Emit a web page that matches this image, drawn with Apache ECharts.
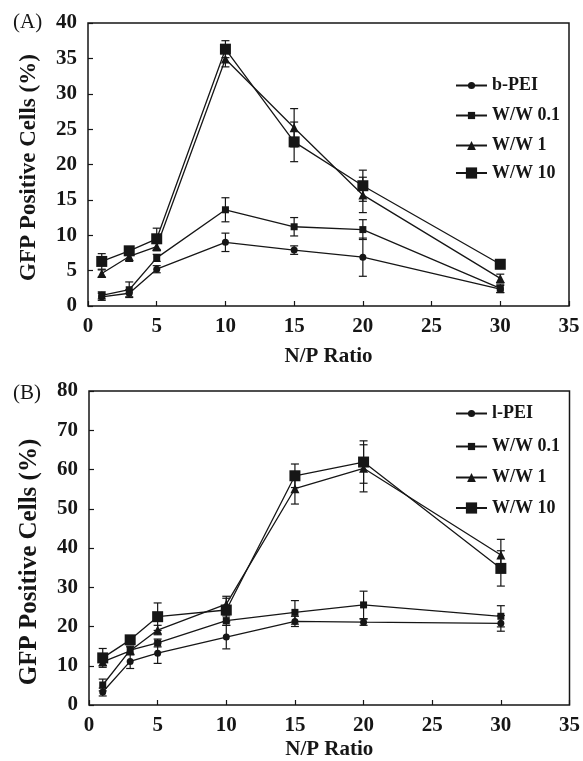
<!DOCTYPE html>
<html><head><meta charset="utf-8">
<script src="https://cdn.jsdelivr.net/npm/echarts@6/dist/echarts.min.js"></script>
<style>html,body{margin:0;padding:0;background:#fff}#c{width:583px;height:761px}</style>
</head><body><div id="c"></div>
<script>
// N/P ratios
const npRatio = [1, 3, 5, 10, 15, 20, 30];
const xTicks = [0, 5, 10, 15, 20, 25, 30, 35];
// Panel A (b-PEI)
const namesA = ['b-PEI', 'W/W 0.1', 'W/W 1', 'W/W 10'];
const A_bPEI = [1.3, 1.8, 5.2, 9.0, 7.9, 6.9, 2.4];
const A_bPEI_err = [0.5, 0.5, 0.5, 1.3, 0.6, 2.7, 0.5];
const A_w01 = [1.5, 2.3, 6.8, 13.6, 11.2, 10.8, 2.5];
const A_w01_err = [0.5, 1.1, 0.5, 1.7, 1.3, 1.4, 0.6];
const A_w1 = [4.6, 7.0, 8.4, 34.9, 25.2, 15.7, 3.9];
const A_w1_err = [0.5, 0.7, 0.6, 1.1, 2.7, 2.5, 0.6];
const A_w10 = [6.3, 7.8, 9.5, 36.3, 23.2, 17.0, 5.9];
const A_w10_err = [1.1, 0.5, 1.5, 1.2, 2.8, 2.2, 0.6];
// Panel B (l-PEI)
const namesB = ['l-PEI', 'W/W 0.1', 'W/W 1', 'W/W 10'];
const B_lPEI = [3.3, 11.1, 13.2, 17.3, 21.3, 21.1, 20.8];
const B_lPEI_err = [1.0, 1.8, 2.6, 3.0, 1.3, 0.8, 2.0];
const B_w01 = [5.1, 14.0, 15.8, 21.5, 23.6, 25.5, 22.6];
const B_w01_err = [1.5, 1.0, 1.0, 1.2, 3.0, 3.5, 2.7];
const B_w1 = [11.0, 13.8, 19.1, 25.7, 55.1, 60.3, 38.2];
const B_w1_err = [1.0, 1.0, 1.2, 2.0, 3.9, 6.0, 4.0];
const B_w10 = [12.0, 16.6, 22.5, 24.2, 58.4, 61.9, 34.8];
const B_w10_err = [2.4, 1.0, 3.5, 3.0, 3.0, 5.4, 4.5];

const FONT = 'Liberation Serif';
const INK = '#161616';
const symbols = [['circle', 7], ['rect', 7], ['triangle', 9], ['rect', 11]];

function pairs(vals) { return npRatio.map((x, i) => [x, vals[i]]); }
function triples(vals, errs) { return npRatio.map((x, i) => [x, vals[i], errs[i]]); }

function errRender(params, api) {
  const x = api.value(0), y = api.value(1), e = api.value(2);
  const t = api.coord([x, y + e]), b = api.coord([x, y - e]);
  const w = 4, st = { stroke: INK, lineWidth: 1.2 };
  return { type: 'group', children: [
    { type: 'line', shape: { x1: t[0], y1: t[1], x2: b[0], y2: b[1] }, style: st },
    { type: 'line', shape: { x1: t[0] - w, y1: t[1], x2: t[0] + w, y2: t[1] }, style: st },
    { type: 'line', shape: { x1: b[0] - w, y1: b[1], x2: b[0] + w, y2: b[1] }, style: st }
  ]};
}

function makeSeries(names, vals, errs, axisIdx, tag) {
  const out = [];
  names.forEach((n, k) => {
    out.push({
      type: 'custom', name: tag + n + '_err', xAxisIndex: axisIdx, yAxisIndex: axisIdx,
      renderItem: errRender, data: triples(vals[k], errs[k]), z: 1, silent: true,
      encode: { x: 0, y: [1] }
    });
    out.push({
      type: 'line', name: tag + n, xAxisIndex: axisIdx, yAxisIndex: axisIdx,
      data: pairs(vals[k]), symbol: symbols[k][0], symbolSize: symbols[k][1],
      lineStyle: { color: INK, width: 1.3 }, itemStyle: { color: INK, borderWidth: 0 },
      z: 3, animation: false
    });
  });
  return out;
}

const chart = echarts.init(document.getElementById('c'), null, { renderer: 'canvas' });

function xAxisDef(idx, gap) {
  return {
    type: 'value', gridIndex: idx, min: 0, max: 35, interval: 5,
    name: 'N/P Ratio', nameLocation: 'middle', nameGap: gap,
    nameTextStyle: { fontFamily: FONT, fontWeight: 'bold', fontSize: 21, color: INK },
    axisLine: { show: false }, splitLine: { show: false },
    axisTick: { show: true, inside: true, length: 5, lineStyle: { color: INK, width: 1.2 } },
    axisLabel: { fontFamily: FONT, fontWeight: 'bold', fontSize: 21, color: INK, margin: 10,
      customValues: xTicks },
  };
}
function yAxisDef(idx, max, interval, gap, fs, shift) {
  return {
    type: 'value', gridIndex: idx, min: 0, max: max, interval: interval,
    name: 'GFP Positive Cells (%)', nameLocation: 'middle', nameGap: gap,
    nameTextStyle: { fontFamily: FONT, fontWeight: 'bold', fontSize: fs, color: INK, padding: [0, shift, 0, 0] },
    axisLine: { show: false }, splitLine: { show: false },
    axisTick: { show: true, inside: true, length: 5, lineStyle: { color: INK, width: 1.2 } },
    axisLabel: { fontFamily: FONT, fontWeight: 'bold', fontSize: 21, color: INK, margin: 11 }
  };
}
// one legend per entry so each keeps its own marker size
const legendIconH = [9, 9, 11, 14];
const legendRowsA = [81, 111, 142, 171];
const legendRowsB = [409, 442, 474, 506];
function legendDefs(names, tag, rows) {
  return names.map((n, k) => ({
    data: [{ name: tag + n }], orient: 'vertical', left: 455, top: rows[k] - legendIconH[k] / 2,
    itemWidth: 31, itemHeight: legendIconH[k], selectedMode: false, padding: 0,
    formatter: () => n,
    textStyle: { fontFamily: FONT, fontWeight: 'bold', fontSize: 18, color: INK, lineHeight: 8, padding: [0, 0, 0, 0] }
  }));
}

const option = {
  animation: false,
  backgroundColor: '#fff',
  grid: [
    { left: 88, top: 23, width: 481, height: 283, show: true, borderColor: INK, borderWidth: 1.5, backgroundColor: 'transparent' },
    { left: 89, top: 391, width: 484, height: 320, show: true, borderColor: INK, borderWidth: 1.5, backgroundColor: 'transparent' }
  ],
  xAxis: [xAxisDef(0, 40), xAxisDef(1, 34)],
  yAxis: [yAxisDef(0, 40, 5, 47, 23, 6), yAxisDef(1, 80, 10, 47, 25, 28)],
  legend: [].concat(legendDefs(namesA, 'A:', legendRowsA), legendDefs(namesB, 'B:', legendRowsB)),
  graphic: [
    { type: 'text', left: 13, top: 12, style: { text: '(A)', fontFamily: FONT, fontSize: 21, fill: INK } },
    { type: 'text', left: 13, top: 383, style: { text: '(B)', fontFamily: FONT, fontSize: 21, fill: INK } }
  ],
  series: [].concat(
    makeSeries(namesA, [A_bPEI, A_w01, A_w1, A_w10], [A_bPEI_err, A_w01_err, A_w1_err, A_w10_err], 0, 'A:'),
    makeSeries(namesB, [B_lPEI, B_w01, B_w1, B_w10], [B_lPEI_err, B_w01_err, B_w1_err, B_w10_err], 1, 'B:')
  )
};
chart.setOption(option);
</script></body></html>
